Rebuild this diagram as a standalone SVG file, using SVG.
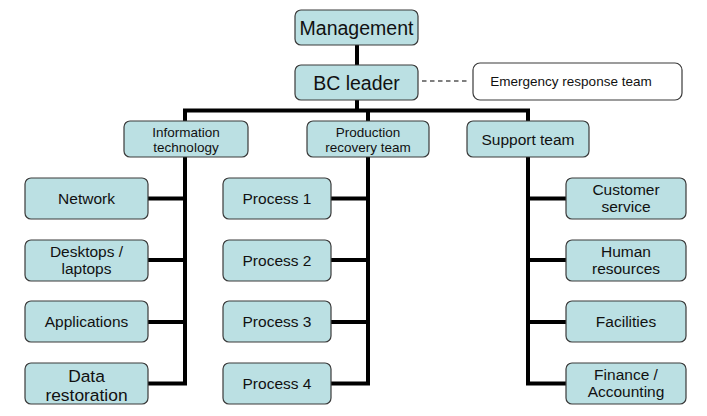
<svg xmlns="http://www.w3.org/2000/svg" width="707" height="416" viewBox="0 0 707 416">
<style>
.box{fill:#BBE0E3;stroke:#3a3a3a;stroke-width:1.2}
.wbox{fill:#fff;stroke:#3a3a3a;stroke-width:1.2}
.c{stroke:#000;stroke-width:4;fill:none}
text{font-family:"Liberation Sans",Arial,sans-serif;fill:#111;text-anchor:middle}
.f20{font-size:19.5px}
.f17{font-size:17.4px}
.f15{font-size:15.5px}
.f13{font-size:13.5px}
</style>
<rect width="707" height="416" fill="#fff"/>
<g id="connectors">
<line class="c" x1="357" y1="44" x2="357" y2="66"/>
<line class="c" x1="357" y1="100" x2="357" y2="111"/>
<polyline class="c" points="185,122 185,110.5 528,110.5 528,122"/>
<line class="c" x1="368" y1="110" x2="368" y2="122"/>
<line class="c" x1="185" y1="157" x2="185" y2="385"/>
<line class="c" x1="368" y1="157" x2="368" y2="385"/>
<line class="c" x1="528" y1="157" x2="528" y2="385"/>
<line class="c" x1="148" y1="198.5" x2="187" y2="198.5"/>
<line class="c" x1="148" y1="260" x2="187" y2="260"/>
<line class="c" x1="148" y1="322" x2="187" y2="322"/>
<line class="c" x1="148" y1="383.5" x2="187" y2="383.5"/>
<line class="c" x1="331" y1="198.5" x2="370" y2="198.5"/>
<line class="c" x1="331" y1="260" x2="370" y2="260"/>
<line class="c" x1="331" y1="322" x2="370" y2="322"/>
<line class="c" x1="331" y1="383.5" x2="370" y2="383.5"/>
<line class="c" x1="526" y1="198.5" x2="566" y2="198.5"/>
<line class="c" x1="526" y1="260" x2="566" y2="260"/>
<line class="c" x1="526" y1="322" x2="566" y2="322"/>
<line class="c" x1="526" y1="383.5" x2="566" y2="383.5"/>
<line x1="422" y1="81" x2="469" y2="81" stroke="#000" stroke-width="1.2" stroke-dasharray="4.5,3.5"/>
</g>
<g id="management"><rect class="box" x="295" y="10" width="123" height="35" rx="6"/><text class="f20" x="356.5" y="35">Management</text></g>
<g id="bc-leader"><rect class="box" x="295" y="65" width="123" height="35" rx="6"/><text class="f20" x="356.5" y="90">BC leader</text></g>
<g id="emergency"><rect class="wbox" x="473" y="63" width="209" height="37" rx="7"/><text class="f13" x="571" y="86">Emergency response team</text></g>
<g id="it"><rect class="box" x="124" y="121" width="124" height="36" rx="6"/><text class="f13" x="186" y="137">Information</text><text class="f13" x="186" y="152">technology</text></g>
<g id="production"><rect class="box" x="307" y="121" width="122" height="36" rx="6"/><text class="f13" x="368" y="137">Production</text><text class="f13" x="368" y="152">recovery team</text></g>
<g id="support"><rect class="box" x="467" y="121" width="122" height="36" rx="6"/><text class="f15" x="528" y="145">Support team</text></g>
<g id="network"><rect class="box" x="25" y="178" width="123" height="41" rx="6"/><text class="f15" x="86.5" y="204">Network</text></g>
<g id="desktops"><rect class="box" x="25" y="240" width="123" height="41" rx="6"/><text class="f15" x="86.5" y="257">Desktops /</text><text class="f15" x="86.5" y="274">laptops</text></g>
<g id="applications"><rect class="box" x="25" y="301" width="123" height="41" rx="6"/><text class="f15" x="86.5" y="327">Applications</text></g>
<g id="data"><rect class="box" x="25" y="363" width="123" height="41" rx="6"/><text class="f17" x="86.5" y="382">Data</text><text class="f17" x="86.5" y="401">restoration</text></g>
<g id="process1"><rect class="box" x="223" y="178" width="108" height="41" rx="6"/><text class="f15" x="277" y="204">Process 1</text></g>
<g id="process2"><rect class="box" x="223" y="240" width="108" height="41" rx="6"/><text class="f15" x="277" y="265.5">Process 2</text></g>
<g id="process3"><rect class="box" x="223" y="301" width="108" height="41" rx="6"/><text class="f15" x="277" y="327">Process 3</text></g>
<g id="process4"><rect class="box" x="223" y="363" width="108" height="41" rx="6"/><text class="f15" x="277" y="389">Process 4</text></g>
<g id="customer"><rect class="box" x="566" y="178" width="120" height="41" rx="6"/><text class="f15" x="626" y="195">Customer</text><text class="f15" x="626" y="212">service</text></g>
<g id="hr"><rect class="box" x="566" y="240" width="120" height="41" rx="6"/><text class="f15" x="626" y="257">Human</text><text class="f15" x="626" y="274">resources</text></g>
<g id="facilities"><rect class="box" x="566" y="301" width="120" height="41" rx="6"/><text class="f15" x="626" y="327">Facilities</text></g>
<g id="finance"><rect class="box" x="566" y="363" width="120" height="41" rx="6"/><text class="f15" x="626" y="380">Finance /</text><text class="f15" x="626" y="397">Accounting</text></g>
</svg>
